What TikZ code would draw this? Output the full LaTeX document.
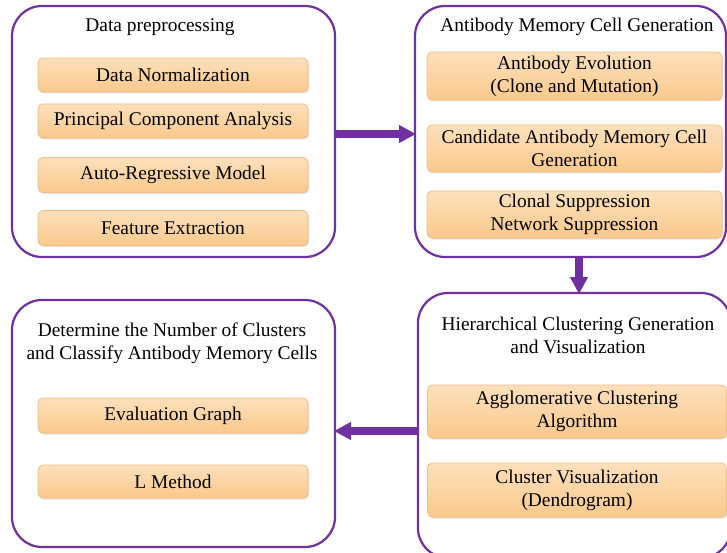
\documentclass[tikz,border=0pt]{standalone}
\usepackage{fontspec}
\setmainfont{Liberation Serif}
\usetikzlibrary{arrows.meta,shadows}
\definecolor{panelpurple}{HTML}{7030A0}
\definecolor{boxtop}{HTML}{FDE0BC}
\definecolor{boxbot}{HTML}{FAC98C}
\definecolor{boxedge}{HTML}{F3BE84}
\tikzset{
  panel/.style={draw=panelpurple, line width=2.2pt, rounded corners=30pt, fill=white},
  itembox/.style={draw=boxedge, line width=0.8pt, rounded corners=5pt,
     top color=boxtop, bottom color=boxbot, drop shadow={opacity=0.25, shadow xshift=1pt, shadow yshift=-1.5pt},
     align=center, inner sep=0pt, font=\fontsize{19.4}{23}\selectfont},
  ttl/.style={align=center, font=\fontsize{19.4}{23}\selectfont, inner sep=0pt},
  bigarrow/.style={draw=panelpurple, line width=8pt, -{Triangle[length=17pt,width=17pt]}, shorten >=-1pt}
}
\begin{document}
\begin{tikzpicture}[x=1pt,y=-1pt]
\useasboundingbox (0,0) rectangle (727,553);
\clip (0,0) rectangle (727,553);
\fill[white] (0,0) rectangle (727,553);
% panels
\draw[panel] (12,6) rectangle (335,257);
\draw[panel] (415,6) rectangle (726,257);
\draw[panel] (418,293) rectangle (731,558);
\draw[panel] (12,300) rectangle (335,547);
% panel anchors
\coordinate (p1e) at (335,134);
\coordinate (p2w) at (415,134);
\coordinate (p2s) at (579,257);
\coordinate (p3n) at (579,293);
\coordinate (p3w) at (418,431);
\coordinate (p4e) at (335,431);
% titles
\node[ttl] (t1) at (160,27) {Data preprocessing};
\node[ttl] (t2) at (577,27) {Antibody Memory Cell Generation};
\node[ttl] (t3) at (578,335) {Hierarchical Clustering Generation\\and Visualization};
\node[ttl] (t4) at (172,343) {Determine the Number of Clusters\\and Classify Antibody Memory Cells};
% panel 1 items
\node[itembox, minimum width=270pt, minimum height=34pt] (a1) at (173,75) {Data Normalization};
\node[itembox, minimum width=270pt, minimum height=34pt] (a2) at (173,121) {Principal Component Analysis};
\node[itembox, minimum width=270pt, minimum height=35pt] (a3) at (173,175) {Auto-Regressive Model};
\node[itembox, minimum width=270pt, minimum height=35pt] (a4) at (173,228) {Feature Extraction};
% panel 2 items
\node[itembox, minimum width=295pt, minimum height=48pt] (b1) at (574.5,76) {Antibody Evolution\\(Clone and Mutation)};
\node[itembox, minimum width=295pt, minimum height=47pt] (b2) at (574.5,148.5) {Candidate Antibody Memory Cell\\Generation};
\node[itembox, minimum width=295pt, minimum height=47pt] (b3) at (574.5,214.5) {Clonal Suppression\\Network Suppression};
% panel 3 items
\node[itembox, minimum width=299pt, minimum height=53pt] (c1) at (577,411.5) {Agglomerative Clustering\\Algorithm};
\node[itembox, minimum width=299pt, minimum height=54pt] (c2) at (577,490) {Cluster Visualization\\(Dendrogram)};
% panel 4 items
\node[itembox, minimum width=270pt, minimum height=35pt] (d1) at (173,415.5) {Evaluation Graph};
\node[itembox, minimum width=270pt, minimum height=33pt] (d2) at (173,481.5) {L Method};
% arrows
\draw[bigarrow] (p1e) -- (p2w);
\draw[bigarrow] (p2s) -- (p3n);
\draw[bigarrow] (p3w) -- (p4e);
\end{tikzpicture}
\end{document}
